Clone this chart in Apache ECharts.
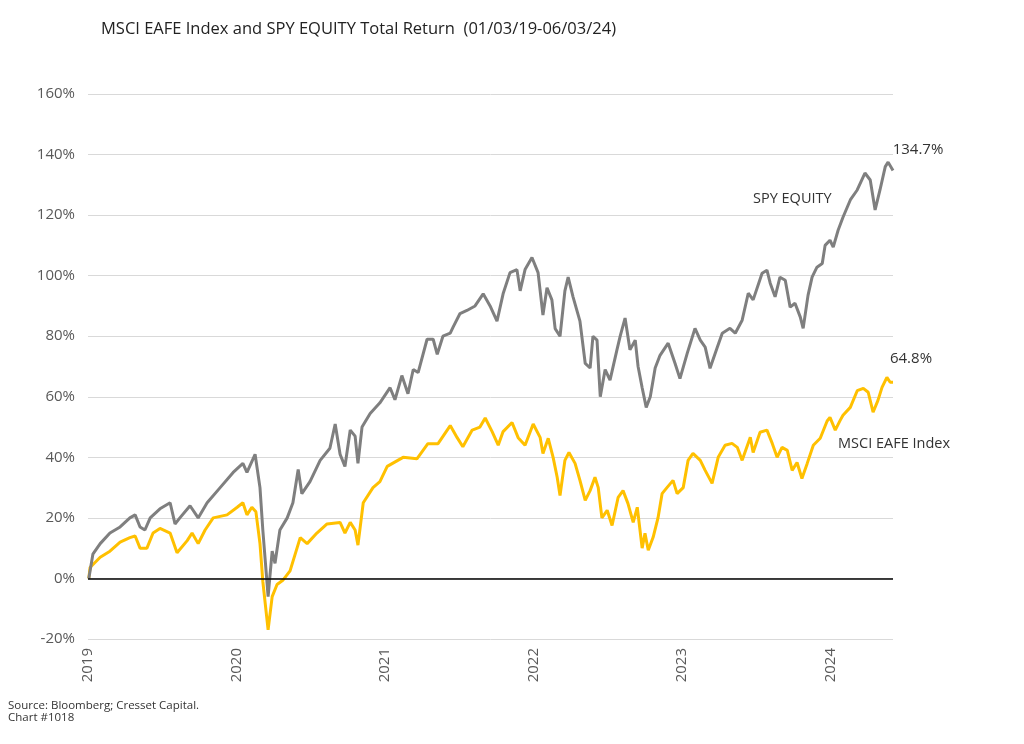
<!DOCTYPE html>
<html>
<head>
<meta charset="utf-8">
<script src="https://cdn.jsdelivr.net/npm/echarts@6/dist/echarts.min.js"></script>
<style>
  html, body { margin: 0; padding: 0; background: #fff; }
  #chart { width: 1024px; height: 744px; }
</style>
</head>
<body>
<div id="chart"></div>
<script>
// total return (%), SPY EQUITY
const spyDates = [
  '2019-01-03', '2019-01-13', '2019-01-31', '2019-02-24', '2019-03-21', '2019-04-14', '2019-04-27', '2019-05-09',
  '2019-05-21', '2019-06-03', '2019-06-27', '2019-07-22', '2019-08-03', '2019-08-15', '2019-09-09', '2019-09-29',
  '2019-10-21', '2019-11-22', '2019-12-24', '2020-01-17', '2020-01-27', '2020-02-16', '2020-02-28', '2020-03-06',
  '2020-03-19', '2020-03-29', '2020-04-05', '2020-04-17', '2020-05-05', '2020-05-19', '2020-06-01', '2020-06-10',
  '2020-06-30', '2020-07-25', '2020-08-18', '2020-08-31', '2020-09-12', '2020-09-24', '2020-10-07', '2020-10-19',
  '2020-10-26', '2020-11-05', '2020-11-25', '2020-12-19', '2021-01-13', '2021-01-25', '2021-02-11', '2021-02-26',
  '2021-03-11', '2021-03-23', '2021-04-14', '2021-04-29', '2021-05-09', '2021-05-23', '2021-06-10', '2021-06-17',
  '2021-07-04', '2021-07-21', '2021-08-10', '2021-08-30', '2021-09-16', '2021-10-03', '2021-10-18', '2021-11-04',
  '2021-11-21', '2021-11-29', '2021-12-11', '2021-12-28', '2022-01-12', '2022-01-24', '2022-02-03', '2022-02-15',
  '2022-02-23', '2022-03-07', '2022-03-19', '2022-03-27', '2022-04-08', '2022-04-25', '2022-05-08', '2022-05-20',
  '2022-05-27', '2022-06-06', '2022-06-14', '2022-06-26', '2022-07-08', '2022-07-25', '2022-08-02', '2022-08-14',
  '2022-08-26', '2022-09-08', '2022-09-15', '2022-09-25', '2022-10-05', '2022-10-15', '2022-10-27', '2022-11-08',
  '2022-11-28', '2022-12-15', '2022-12-27', '2023-01-14', '2023-02-02', '2023-02-15', '2023-02-27', '2023-03-11',
  '2023-03-28', '2023-04-10', '2023-04-29', '2023-05-12', '2023-05-29', '2023-06-13', '2023-06-25', '2023-07-17',
  '2023-07-29', '2023-08-06', '2023-08-18', '2023-08-30', '2023-09-12', '2023-09-24', '2023-10-06', '2023-10-19',
  '2023-10-26', '2023-11-07', '2023-11-17', '2023-11-29', '2023-12-12', '2023-12-19', '2023-12-31', '2024-01-08',
  '2024-01-20', '2024-02-01', '2024-02-19', '2024-03-07', '2024-03-26', '2024-04-08', '2024-04-20', '2024-05-02',
  '2024-05-15', '2024-05-22', '2024-06-03'
]
const spyValues = [
  0, 8, 11.5, 15, 17, 20, 21, 17,
  16, 20, 23, 25, 18, 20, 24, 20,
  25, 30, 35, 38, 35, 41, 30, 16,
  -6, 9, 5, 16, 20, 25, 36, 28,
  32, 39, 43, 51, 41, 37, 49, 47,
  38, 50, 54.5, 58, 63, 59, 67, 61,
  69, 68, 79, 79, 74, 80, 81, 83,
  87.5, 88.5, 90, 94, 90, 85, 94, 101,
  102, 95, 102, 106, 101, 87, 96, 92,
  82.5, 80, 95, 99.5, 93, 85, 71, 69.5,
  80, 78.7, 60, 69, 65.5, 75.5, 80, 86,
  75.5, 78.7, 70, 63, 56.5, 60, 69.5, 73.7,
  77.7, 71, 66, 74.4, 82.6, 78.7, 76.4, 69.4,
  76, 81, 82.6, 81, 85.3, 94.2, 92, 100.8,
  101.8, 97.5, 93, 99.5, 98.5, 89.6, 90.9, 86.3,
  82.6, 93.5, 99.5, 102.8, 104, 110, 111.7, 109.4,
  115, 119.3, 125, 128.3, 133.9, 131.6, 121.7, 128.3,
  136, 137.5, 134.7
]

// total return (%), MSCI EAFE Index
const eafeDates = [
  '2019-01-03', '2019-01-06', '2019-01-31', '2019-02-24', '2019-03-21', '2019-04-14', '2019-04-27', '2019-05-09',
  '2019-05-26', '2019-06-10', '2019-06-27', '2019-07-22', '2019-08-08', '2019-09-02', '2019-09-14', '2019-09-29',
  '2019-10-16', '2019-11-05', '2019-12-09', '2020-01-03', '2020-01-17', '2020-01-27', '2020-02-08', '2020-02-18',
  '2020-02-28', '2020-03-06', '2020-03-19', '2020-03-29', '2020-04-10', '2020-04-25', '2020-05-12', '2020-06-06',
  '2020-06-23', '2020-07-17', '2020-08-11', '2020-09-12', '2020-09-24', '2020-10-07', '2020-10-19', '2020-10-26',
  '2020-11-08', '2020-12-02', '2020-12-19', '2021-01-06', '2021-02-14', '2021-03-20', '2021-04-16', '2021-05-11',
  '2021-06-10', '2021-06-27', '2021-07-11', '2021-08-03', '2021-08-22', '2021-09-04', '2021-09-21', '2021-10-06',
  '2021-10-18', '2021-11-09', '2021-11-24', '2021-12-11', '2021-12-31', '2022-01-17', '2022-01-24', '2022-02-06',
  '2022-02-18', '2022-02-28', '2022-03-07', '2022-03-19', '2022-03-29', '2022-04-13', '2022-04-25', '2022-05-08',
  '2022-05-20', '2022-06-01', '2022-06-09', '2022-06-18', '2022-07-01', '2022-07-13', '2022-07-28', '2022-08-09',
  '2022-08-21', '2022-09-03', '2022-09-13', '2022-09-25', '2022-10-02', '2022-10-10', '2022-10-22', '2022-11-03',
  '2022-11-13', '2022-11-25', '2022-12-10', '2022-12-20', '2023-01-04', '2023-01-16', '2023-01-28', '2023-02-15',
  '2023-02-27', '2023-03-16', '2023-03-31', '2023-04-17', '2023-05-04', '2023-05-17', '2023-05-29', '2023-06-18',
  '2023-06-25', '2023-07-12', '2023-07-29', '2023-08-11', '2023-08-23', '2023-09-04', '2023-09-17', '2023-09-29',
  '2023-10-11', '2023-10-23', '2023-11-05', '2023-11-20', '2023-12-07', '2023-12-24', '2023-12-31', '2024-01-13',
  '2024-01-25', '2024-02-01', '2024-02-19', '2024-03-07', '2024-03-22', '2024-04-03', '2024-04-15', '2024-04-27',
  '2024-05-07', '2024-05-19', '2024-05-27', '2024-06-03'
]
const eafeValues = [
  0, 3.6, 7, 9, 12, 13.5, 14, 10,
  10, 15, 16.5, 15, 8.5, 12.5, 15, 11.5,
  16, 20, 21, 23.5, 25, 21, 23.5, 22,
  11.5, -1, -17, -6, -2, -0.5, 2.5, 13.5,
  11.5, 15, 18, 18.5, 15, 18.5, 16, 11,
  25, 30, 32, 37, 40, 39.5, 44.5, 44.5,
  50.5, 46.5, 43.5, 49, 50, 53, 48.5, 44,
  48.5, 51.5, 46.5, 44, 51, 46.6, 41.3, 46.3,
  40, 33.4, 27.4, 39, 41.6, 38, 32.4, 25.8,
  29, 33.4, 30, 20, 22.5, 17.5, 26.8, 29,
  24.8, 18.5, 23.5, 10, 14.9, 9.3, 13.6, 20,
  28, 30, 32.4, 28, 30, 39, 41.3, 39,
  35.7, 31.4, 40, 44, 44.6, 43.3, 39, 46.6,
  41.6, 48.3, 49, 44.6, 40, 43.3, 42.3, 35.7,
  38.3, 33, 38, 44, 46.3, 52, 53.2, 49,
  52.2, 53.9, 56.5, 62, 62.8, 61.5, 54.9, 58.8,
  63.1, 66.4, 64.8, 64.8
]

const pair = (dates, values) => dates.map((d, i) => [d, values[i]])
const lastPoint = (dates, values) => [dates[dates.length - 1], values[values.length - 1]]

const labelColor = '#595959'
const fontFamily = '"Open Sans", Lato, sans-serif'

const chart = echarts.init(document.getElementById('chart'))

chart.setOption({
  animation: false,
  title: {
    text: 'MSCI EAFE Index and SPY EQUITY Total Return  (01/03/19-06/03/24)',
    left: 96,
    top: 16,
    textStyle: { color: '#222', fontSize: 16.5, fontWeight: 'normal', fontFamily },
  },
  grid: { left: 88, right: 131, top: 94, bottom: 105 },
  xAxis: {
    type: 'time',
    min: '2019-01-01',
    max: '2024-06-03',
    splitNumber: 6,
    axisLine: { show: false },
    axisTick: { show: false },
    splitLine: { show: false },
    axisLabel: {
      rotate: 90,
      margin: 9,
      color: labelColor,
      fontSize: 15,
      fontFamily,
      hideOverlap: false,
      formatter: {
        year: '{yyyy}',
        month: '',
        day: '',
        hour: '',
        minute: '',
        second: '',
        millisecond: '',
        none: '',
      },
      rich: {},
    },
  },
  yAxis: {
    type: 'value',
    min: -20,
    max: 160,
    interval: 20,
    axisLine: { show: false },
    axisTick: { show: false },
    axisLabel: {
      color: labelColor,
      fontSize: 15,
      margin: 13,
      fontFamily,
      formatter: '{value}%',
    },
    splitLine: { lineStyle: { color: '#d9d9d9', width: 1 } },
  },
  series: [
    {
      name: 'SPY EQUITY',
      type: 'line',
      data: pair(spyDates, spyValues),
      showSymbol: false,
      color: '#7f7f7f',
      lineStyle: { width: 3, color: '#7f7f7f' },
      z: 3,
      markLine: {
        silent: true,
        symbol: 'none',
        label: { show: false },
        lineStyle: { color: '#000', width: 1.5, type: 'solid' },
        data: [{ yAxis: 0 }],
      },
      markPoint: {
        symbol: 'circle',
        symbolSize: 0,
        label: {
          show: true,
          position: 'top',
          offset: [25, -8],
          color: '#333',
          fontSize: 15,
          fontFamily,
          formatter: p => p.value + '%',
        },
        data: [{ coord: lastPoint(spyDates, spyValues), value: spyValues[spyValues.length - 1] }],
      },
    },
    {
      name: 'MSCI EAFE Index',
      type: 'line',
      data: pair(eafeDates, eafeValues),
      showSymbol: false,
      color: '#ffc000',
      lineStyle: { width: 3, color: '#ffc000' },
      z: 2,
      markPoint: {
        symbol: 'circle',
        symbolSize: 0,
        label: {
          show: true,
          position: 'top',
          offset: [18, -11],
          color: '#333',
          fontSize: 15,
          fontFamily,
          formatter: p => p.value + '%',
        },
        data: [{ coord: lastPoint(eafeDates, eafeValues), value: eafeValues[eafeValues.length - 1] }],
      },
    },
  ],
  graphic: [
    { type: 'text', left: 753, top: 191, style: { text: 'SPY EQUITY', fill: '#333', font: '14.5px ' + fontFamily } },
    { type: 'text', left: 838, top: 436, style: { text: 'MSCI EAFE Index', fill: '#333', font: '14.5px ' + fontFamily } },
    {
      type: 'text',
      left: 8,
      top: 700,
      style: {
        text: 'Source: Bloomberg; Cresset Capital.\nChart #1018',
        fill: '#333',
        font: '11.5px ' + fontFamily,
        lineHeight: 12,
      },
    },
  ],
})

window.addEventListener('resize', () => chart.resize())
</script>
</body>
</html>
